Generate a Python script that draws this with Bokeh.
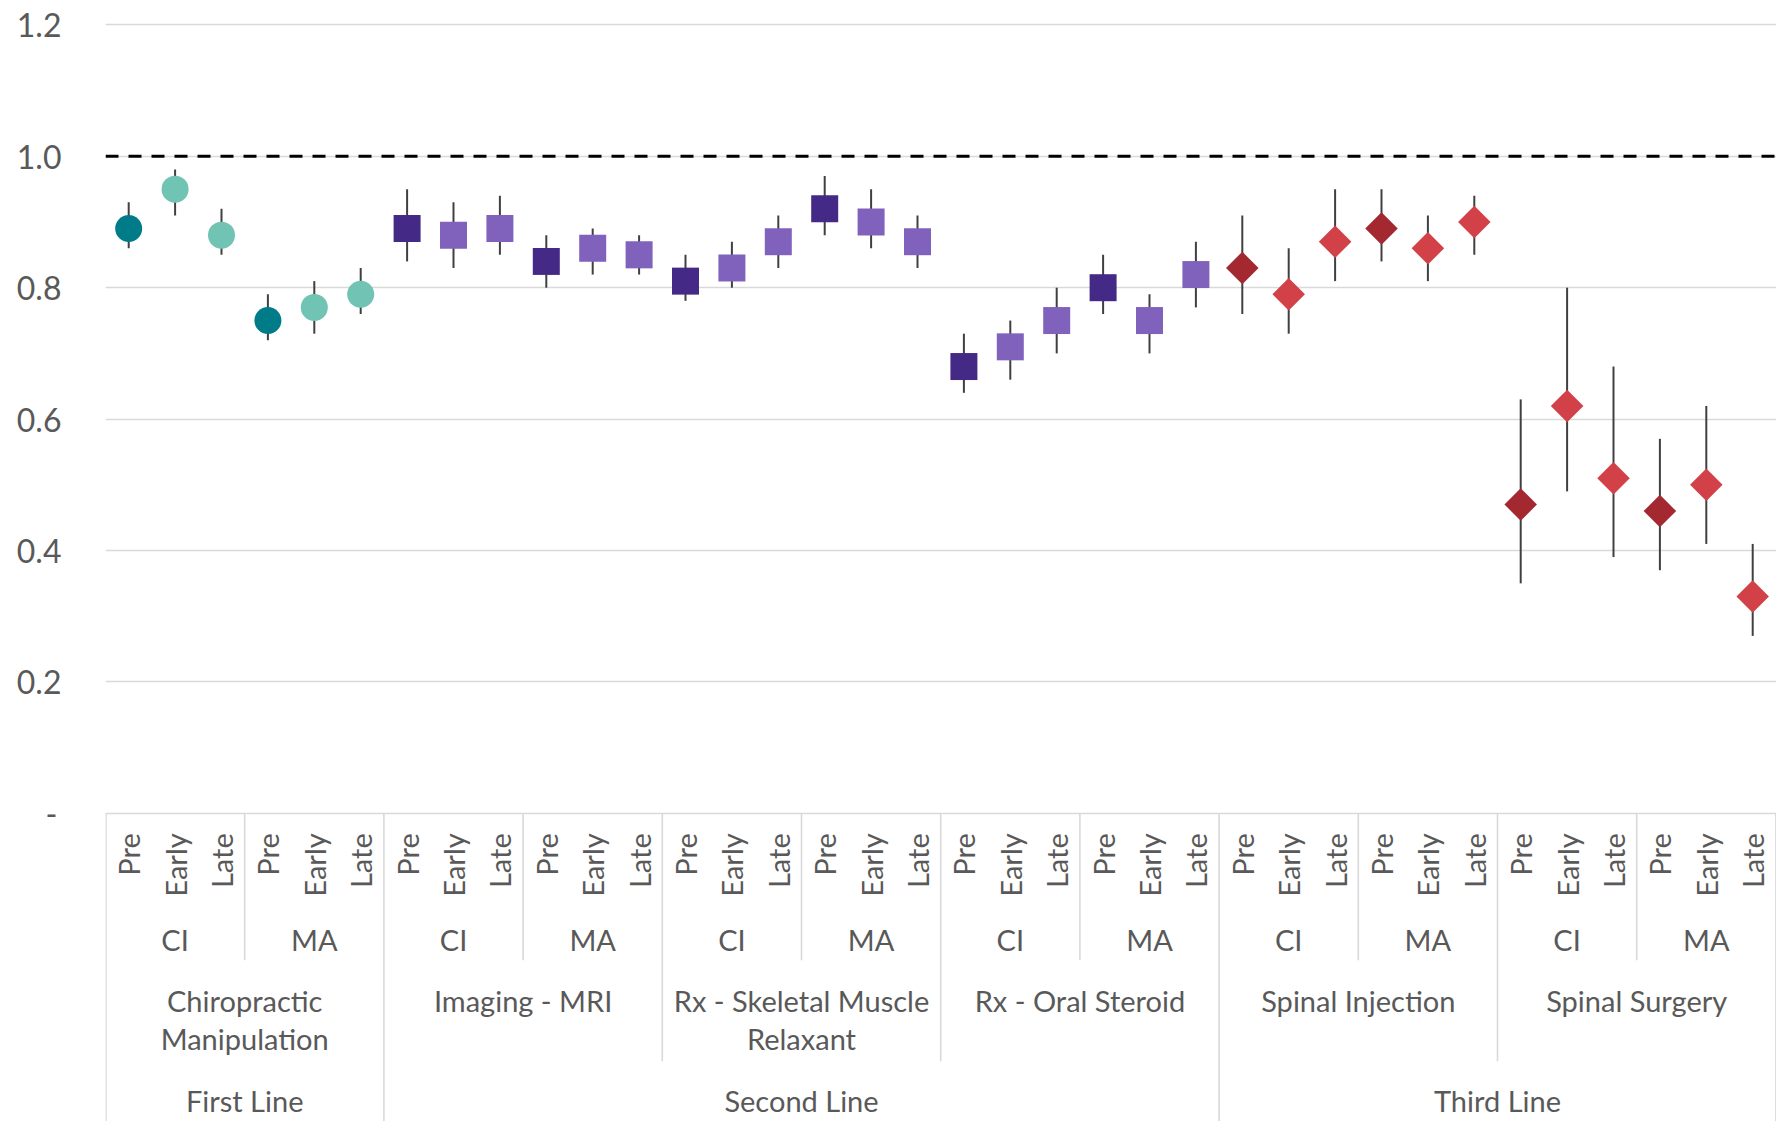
import math
from bokeh.plotting import figure
from bokeh.models import Range1d, FixedTicker, PrintfTickFormatter, Span, ColumnDataSource
from bokeh.core.properties import value
from bokeh.embed import file_html
from bokeh.resources import INLINE

# ---------------- data ----------------
lines = ["First Line", "Second Line", "Third Line"]
treatments = ["Chiropractic\nManipulation", "Imaging - MRI", "Rx - Skeletal Muscle\nRelaxant",
              "Rx - Oral Steroid", "Spinal Injection", "Spinal Surgery"]
treatment_line = [0, 1, 1, 1, 2, 2]
cohorts = ["CI", "MA"]
periods = ["Pre", "Early", "Late"]

estimate = [
    0.89, 0.95, 0.88, 0.75, 0.77, 0.79,
    0.89, 0.88, 0.89, 0.84, 0.86, 0.85,
    0.81, 0.83, 0.87, 0.92, 0.90, 0.87,
    0.68, 0.71, 0.75, 0.80, 0.75, 0.82,
    0.83, 0.79, 0.87, 0.89, 0.86, 0.90,
    0.47, 0.62, 0.51, 0.46, 0.50, 0.33,
]
lower = [
    0.86, 0.91, 0.85, 0.72, 0.73, 0.76,
    0.84, 0.83, 0.85, 0.80, 0.82, 0.82,
    0.78, 0.80, 0.83, 0.88, 0.86, 0.83,
    0.64, 0.66, 0.70, 0.76, 0.70, 0.77,
    0.76, 0.73, 0.81, 0.84, 0.81, 0.85,
    0.35, 0.49, 0.39, 0.37, 0.41, 0.27,
]
upper = [
    0.93, 0.98, 0.92, 0.79, 0.81, 0.83,
    0.95, 0.93, 0.94, 0.88, 0.89, 0.88,
    0.85, 0.87, 0.91, 0.97, 0.95, 0.91,
    0.73, 0.75, 0.80, 0.85, 0.79, 0.87,
    0.91, 0.86, 0.95, 0.95, 0.91, 0.94,
    0.63, 0.80, 0.68, 0.57, 0.62, 0.41,
]
y_ticks = [0, 0.2, 0.4, 0.6, 0.8, 1.0, 1.2]
reference_value = 1.0

# ---------------- styles ----------------
treatment_marker = ["circle", "square", "square", "square", "diamond", "diamond"]
palette = {
    "circle": ("#007C89", "#71C3B3"),
    "square": ("#442A86", "#8062BC"),
    "diamond": ("#A32830", "#D24048"),
}
TEXT = "#595959"
GRID = "#D9D9D9"
FONT = "Lato"
CAT_SIZE = "29px"
PX = 657.0          # pixels per unit on y
ZERO = 812.8        # pixel row of y = 0 from top of canvas
CELL = 46.4         # pixels per category cell
W, H = 1776, 1121
LEFT = 105

n_cells = len(treatments) * len(cohorts) * len(periods)

p = figure(width=W, height=H, output_backend="svg", toolbar_location=None,
           x_range=Range1d(0, (W - LEFT) / CELL),
           y_range=Range1d(-(H - ZERO) / PX, ZERO / PX),
           min_border_left=LEFT, min_border_right=0, min_border_top=0, min_border_bottom=0)
p.outline_line_color = None
p.background_fill_color = "white"
p.border_fill_color = "white"
p.xaxis.visible = False
p.xgrid.visible = False

ticker = FixedTicker(ticks=y_ticks)
p.yaxis.ticker = ticker
p.yaxis.formatter = PrintfTickFormatter(format="%.1f")
p.yaxis.major_label_overrides = {0: "-\u2009"}
p.yaxis.axis_line_color = None
p.yaxis.major_tick_line_color = None
p.yaxis.minor_tick_line_color = None
p.yaxis.major_tick_out = 0
p.yaxis.major_tick_in = 0
p.yaxis.major_label_standoff = 44
p.yaxis.major_label_text_font = FONT
p.yaxis.major_label_text_font_size = "32px"
p.yaxis.major_label_text_color = TEXT
p.ygrid.ticker = ticker
p.ygrid.grid_line_color = GRID
p.ygrid.grid_line_width = 1.6

p.add_layout(Span(location=reference_value, dimension="width", line_color="black",
                  line_width=3, line_dash="13 10"))

# ---------------- points ----------------
pts = {"circle": dict(x=[], y=[], c=[]), "square": dict(x=[], y=[], c=[]), "diamond": dict(x=[], y=[], c=[])}
xs = []
for ti, tr in enumerate(treatments):
    m = treatment_marker[ti]
    for ci, co in enumerate(cohorts):
        for pi, pe in enumerate(periods):
            idx = (ti * len(cohorts) + ci) * len(periods) + pi
            x = idx + 0.5
            xs.append(x)
            pts[m]["x"].append(x)
            pts[m]["y"].append(estimate[idx])
            pts[m]["c"].append(palette[m][0] if pi == 0 else palette[m][1])

p.segment(x0=xs, y0=lower, x1=xs, y1=upper, line_color="#404040", line_width=2)

p.scatter(x="x", y="y", color="c", source=ColumnDataSource(pts["circle"]), marker="circle", size=27, line_color=None)
p.scatter(x="x", y="y", color="c", source=ColumnDataSource(pts["square"]), marker="square", size=27, line_color=None)
p.scatter(x="x", y="y", color="c", source=ColumnDataSource(pts["diamond"]), marker="square", size=23,
          angle=math.pi / 4, line_color=None)

# ---------------- category table ----------------
def ypx(px_below_zero):
    return -px_below_zero / PX

# period labels (rotated)
per_x, per_t = [], []
for ti in range(len(treatments)):
    for ci in range(len(cohorts)):
        for pi, pe in enumerate(periods):
            per_x.append((ti * len(cohorts) + ci) * len(periods) + pi + 0.5)
            per_t.append(pe)
p.text(x=per_x, y=[ypx(20)] * len(per_x), text=per_t, angle=math.pi / 2,
       text_align="right", text_baseline="middle", text_font=value(FONT),
       text_font_size=value(CAT_SIZE), text_color=TEXT)

# cohort labels
co_x, co_t = [], []
for ti in range(len(treatments)):
    for ci, co in enumerate(cohorts):
        co_x.append((ti * len(cohorts) + ci) * len(periods) + len(periods) / 2)
        co_t.append(co)
p.text(x=co_x, y=[ypx(126)] * len(co_x), text=co_t, text_align="center",
       text_baseline="alphabetic", text_font=value(FONT), text_font_size=value(CAT_SIZE), text_color=TEXT)

# treatment labels
tw = len(cohorts) * len(periods)
tr_x, tr_y, tr_t = [], [], []
for ti, tr in enumerate(treatments):
    for k, part in enumerate(tr.split("\n")):
        tr_x.append(ti * tw + tw / 2)
        tr_y.append(ypx(187 + 38 * k))
        tr_t.append(part)
p.text(x=tr_x, y=tr_y, text=tr_t, text_align="center", text_baseline="alphabetic",
       text_font=value(FONT), text_font_size=value(CAT_SIZE), text_color=TEXT)

# line labels
ln_x, ln_t, line_starts = [], [], []
for li, ln in enumerate(lines):
    members = [ti for ti, l in enumerate(treatment_line) if l == li]
    start = min(members) * tw
    end = (max(members) + 1) * tw
    line_starts.append(start)
    ln_x.append((start + end) / 2)
    ln_t.append(ln)
p.text(x=ln_x, y=[ypx(287)] * len(ln_x), text=ln_t, text_align="center", text_baseline="alphabetic",
       text_font=value(FONT), text_font_size=value(CAT_SIZE), text_color=TEXT)

# separators
sx, sy1 = [], []
for ti in range(len(treatments)):
    for ci in range(1, len(cohorts)):
        sx.append(ti * tw + ci * len(periods))
        sy1.append(ypx(147))
    if ti > 0 and treatment_line[ti] == treatment_line[ti - 1]:
        sx.append(ti * tw)
        sy1.append(ypx(248))
for s in line_starts + [n_cells]:
    sx.append(s + (0.01 if s == 0 else 0))
    sy1.append(ypx(400))
p.segment(x0=sx, y0=[0] * len(sx), x1=sx, y1=sy1, line_color=GRID, line_width=1.6)

open("out.html", "w").write(file_html(p, INLINE))
